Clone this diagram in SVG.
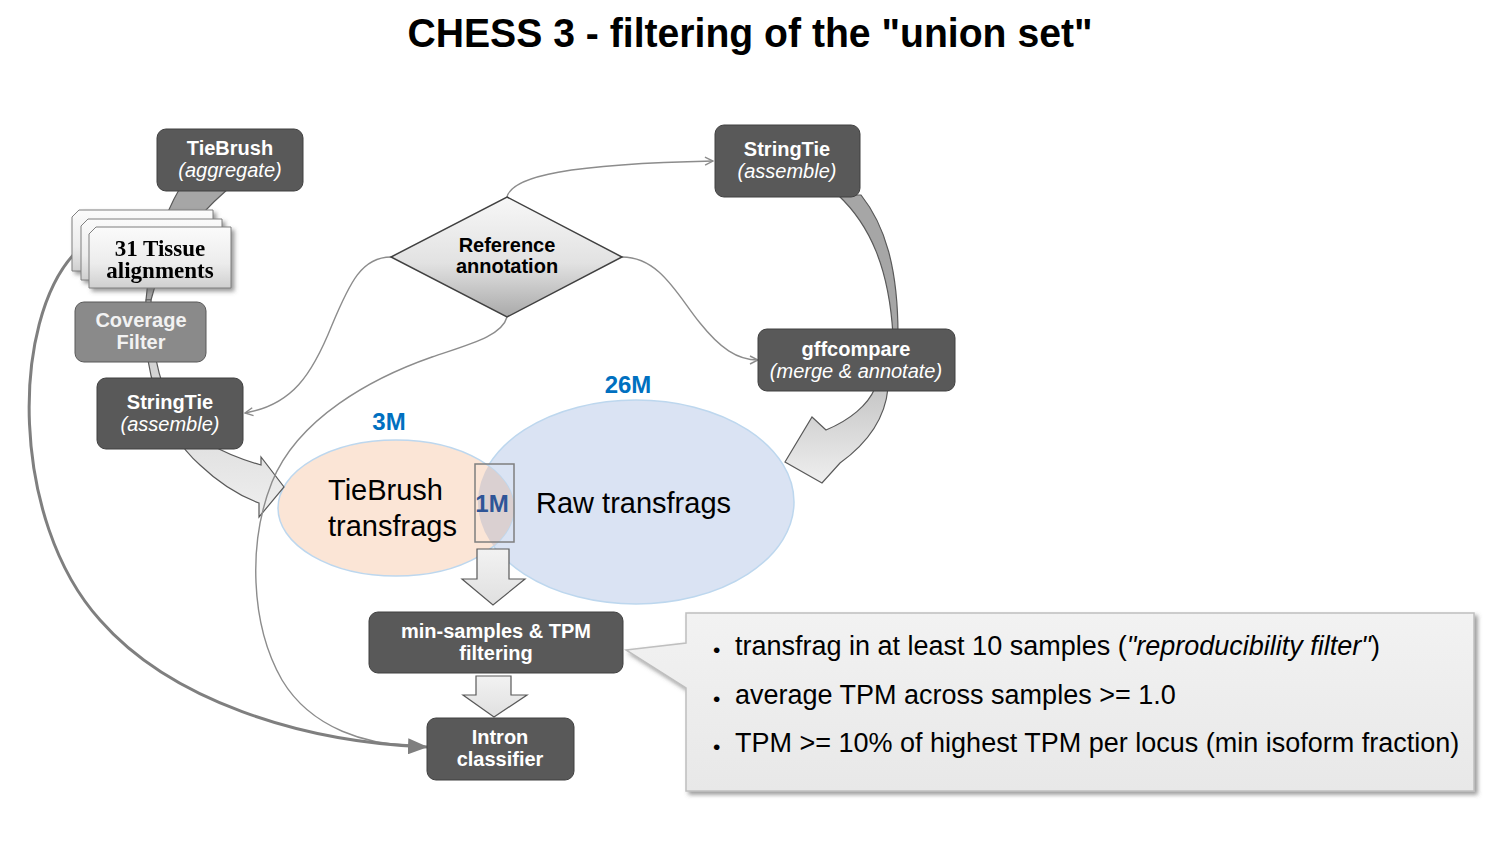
<svg xmlns="http://www.w3.org/2000/svg" width="1500" height="844" viewBox="0 0 1500 844">
<defs>
<style>
text { font-family: "Liberation Sans", Arial, sans-serif; }
text.serif { font-family: "Liberation Serif", "Times New Roman", serif; font-size:23px; font-weight:bold; fill:#000000; text-anchor:middle; }
.box { fill:#595959; stroke:#404040; stroke-width:1; }
.bt { fill:#ffffff; font-size:20px; font-weight:bold; text-anchor:middle; }
.it { fill:#ffffff; font-size:20px; font-style:italic; text-anchor:middle; }
.thin { fill:none; stroke:#8c8c8c; stroke-width:1.4; }
.cnt { fill:#0070c0; font-size:24px; font-weight:bold; text-anchor:middle; }
.big { fill:#000000; font-size:29px; }
.bl { fill:#000000; font-size:27px; }
.dot { fill:#000000; font-size:21px; }
.blk { stroke:#595959; stroke-width:1.2; }
.doc { fill:url(#gDoc); stroke:#7f7f7f; stroke-width:1; }
</style>
<linearGradient id="gDia" x1="0" y1="0" x2="0" y2="1">
<stop offset="0" stop-color="#f7f7f7"/><stop offset="0.55" stop-color="#e2e2e2"/><stop offset="1" stop-color="#a9a9a9"/>
</linearGradient>
<linearGradient id="gDoc" x1="0" y1="0" x2="0" y2="1">
<stop offset="0" stop-color="#fbfbfb"/><stop offset="0.6" stop-color="#ececec"/><stop offset="1" stop-color="#cfcfcf"/>
</linearGradient>
<linearGradient id="gLight" x1="0" y1="0" x2="0" y2="1">
<stop offset="0" stop-color="#c6c6c6"/><stop offset="1" stop-color="#efefef"/>
</linearGradient>
<linearGradient id="gDown" x1="0" y1="0" x2="0" y2="1">
<stop offset="0" stop-color="#f2f2f2"/><stop offset="1" stop-color="#e0e0e0"/>
</linearGradient>
<linearGradient id="gCall" x1="0" y1="0" x2="0" y2="1">
<stop offset="0" stop-color="#f2f2f2"/><stop offset="1" stop-color="#e8e8e8"/>
</linearGradient>
<filter id="sh" x="-10%" y="-10%" width="125%" height="130%">
<feDropShadow dx="3" dy="3" stdDeviation="2" flood-color="#595959" flood-opacity="0.6"/>
</filter>
<clipPath id="clipPeach"><ellipse cx="396" cy="508" rx="118" ry="68"/></clipPath>
<marker id="open" viewBox="0 0 10 10" refX="9" refY="5" markerWidth="10" markerHeight="10" orient="auto" markerUnits="userSpaceOnUse">
<path d="M1,1 L9,5 L1,9" fill="none" stroke="#8c8c8c" stroke-width="1.4"/>
</marker>
<marker id="solid" viewBox="0 0 20 16" refX="19" refY="8" markerWidth="20" markerHeight="16" orient="auto" markerUnits="userSpaceOnUse">
<path d="M0,0 L20,8 L0,16 Z" fill="#7f7f7f"/>
</marker>
</defs>

<rect x="0" y="0" width="1500" height="844" fill="#ffffff"/>

<text x="750" y="47" text-anchor="middle" font-size="40" font-weight="bold" textLength="685" lengthAdjust="spacingAndGlyphs" fill="#000000">CHESS 3 - filtering of the "union set"</text>

<!-- Venn ellipses -->
<g id="raw-transfrags">
<ellipse cx="636" cy="502" rx="158" ry="102" fill="#dae3f3" stroke="#bdd7ee" stroke-width="1.5"/>
<text class="big" x="536" y="513">Raw transfrags</text>
<text class="cnt" x="628" y="393">26M</text>
</g>
<g id="tiebrush-transfrags">
<ellipse cx="396" cy="508" rx="118" ry="68" fill="#fbe5d6" stroke="#bdd7ee" stroke-width="1.5"/>
<ellipse cx="636" cy="502" rx="158" ry="102" fill="#dad0d1" clip-path="url(#clipPeach)"/>
<text class="big" x="328" y="500">TieBrush</text>
<text class="big" x="328" y="536">transfrags</text>
<text class="cnt" x="389" y="430">3M</text>
</g>
<g id="overlap">
<rect x="475" y="464" width="39" height="78" fill="none" stroke="#7f7f7f" stroke-width="1.5"/>
<text x="492" y="512" text-anchor="middle" font-size="24" font-weight="bold" fill="#2f5597">1M</text>
</g>

<!-- Connectors -->
<g id="connectors">
<!-- left big curved arrow -->
<path class="blk" fill="#a6a6a6" d="M180,188 C166,212 150,252 146,300 L151,300 C160,262 190,222 229,188 Z"/>
<path class="blk" fill="url(#gLight)" d="M146,300 C140,362 160,430 200,465 C220,484 240,496 259,503 L259,517 L284,487 L261,457 L261,465 C226,455 192,440 172,406 C156,377 151,340 151,300 Z"/>
<!-- right big curved arrow -->
<path class="blk" fill="#a6a6a6" d="M838,195 C870,225 889,268 893,335 L898,335 C898,268 885,225 861,195 Z"/>
<path class="blk" fill="url(#gLight)" d="M888,388 C885,420 865,445 840,463 L822,483 L785,462 L812,417 L826,430 C850,420 868,405 875,388 Z"/>
<!-- down block arrows -->
<path class="blk" fill="url(#gDown)" d="M477,549 L509,549 L509,579 L525,579 L493,605 L462,579 L477,579 Z"/>
<path class="blk" fill="url(#gDown)" d="M476,676 L511,676 L511,695 L527,695 L494,717 L463,695 L476,695 Z"/>
<!-- thin connectors from Reference annotation -->
<path class="thin" marker-end="url(#open)" d="M507,197 C512,176 570,164 713,161"/>
<path class="thin" marker-end="url(#open)" d="M391,257 C362,257 350,282 332,325 C312,375 292,405 245,413"/>
<path class="thin" marker-end="url(#open)" d="M622,257 C660,257 678,296 700,323 C720,348 737,360 758,360"/>
<path class="thin" d="M507,317 C502,336 470,344 432,357 C372,378 298,418 272,482 C248,542 250,624 282,680 C312,730 370,745 410,745"/>
<!-- thick line from alignments to Intron classifier -->
<path fill="none" stroke="#7f7f7f" stroke-width="3" marker-end="url(#solid)" d="M76,252 C10,320 10,520 100,620 C170,700 300,742 427,747"/>
</g>

<!-- Nodes -->
<g id="tiebrush-aggregate">
<rect class="box" x="157" y="129" width="146" height="62" rx="9"/>
<text class="bt" x="230" y="155">TieBrush</text>
<text class="it" x="230" y="177">(aggregate)</text>
</g>

<g id="tissue-alignments" filter="url(#sh)">
<path class="doc" d="M79,210 L213,210 L213,271 L72,271 L72,217 Z"/>
<path class="doc" d="M88,219 L222,219 L222,280 L81,280 L81,226 Z"/>
<path class="doc" d="M96,227 L231,227 L231,288 L89,288 L89,234 Z"/>
<text class="serif" x="160" y="256">31 Tissue</text>
<text class="serif" x="160" y="278">alignments</text>
</g>

<g id="coverage-filter">
<rect x="75" y="302" width="131" height="60" rx="9" fill="#8a8a8a" stroke="#595959" stroke-width="1"/>
<text class="bt" x="141" y="327" style="fill:#f2f2f2">Coverage</text>
<text class="bt" x="141" y="349" style="fill:#f2f2f2">Filter</text>
</g>

<g id="stringtie-left">
<rect class="box" x="97" y="378" width="146" height="71" rx="9"/>
<text class="bt" x="170" y="409">StringTie</text>
<text class="it" x="170" y="431">(assemble)</text>
</g>

<g id="reference-annotation">
<path d="M507,197 L622,257 L507,317 L391,257 Z" fill="url(#gDia)" stroke="#404040" stroke-width="1.5"/>
<text x="507" y="252" text-anchor="middle" font-size="20" font-weight="bold" fill="#000000">Reference</text>
<text x="507" y="273" text-anchor="middle" font-size="20" font-weight="bold" fill="#000000">annotation</text>
</g>

<g id="stringtie-right">
<rect class="box" x="715" y="125" width="145" height="72" rx="9"/>
<text class="bt" x="787" y="156">StringTie</text>
<text class="it" x="787" y="178">(assemble)</text>
</g>

<g id="gffcompare">
<rect class="box" x="758" y="329" width="197" height="62" rx="9"/>
<text class="bt" x="856" y="356">gffcompare</text>
<text class="it" x="856" y="378">(merge &amp; annotate)</text>
</g>

<g id="min-samples-filtering">
<rect class="box" x="369" y="612" width="254" height="61" rx="9"/>
<text class="bt" x="496" y="638">min-samples &amp; TPM</text>
<text class="bt" x="496" y="660">filtering</text>
</g>

<g id="intron-classifier">
<rect class="box" x="427" y="718" width="147" height="62" rx="9"/>
<text class="bt" x="500" y="744">Intron</text>
<text class="bt" x="500" y="766">classifier</text>
</g>

<g id="filter-callout">
<path d="M686,613 L1474,613 L1474,791 L686,791 L686,688 L626,650 L686,643 Z" fill="url(#gCall)" stroke="#bfbfbf" stroke-width="1.5" filter="url(#sh)"/>
<text class="dot" x="713" y="657">•</text>
<text class="bl" x="735" y="655">transfrag in at least 10 samples (<tspan font-style="italic">"reproducibility filter"</tspan>)</text>
<text class="dot" x="713" y="706">•</text>
<text class="bl" x="735" y="704">average TPM across samples &gt;= 1.0</text>
<text class="dot" x="713" y="754">•</text>
<text class="bl" x="735" y="752">TPM &gt;= 10% of highest TPM per locus (min isoform fraction)</text>
</g>
</svg>
